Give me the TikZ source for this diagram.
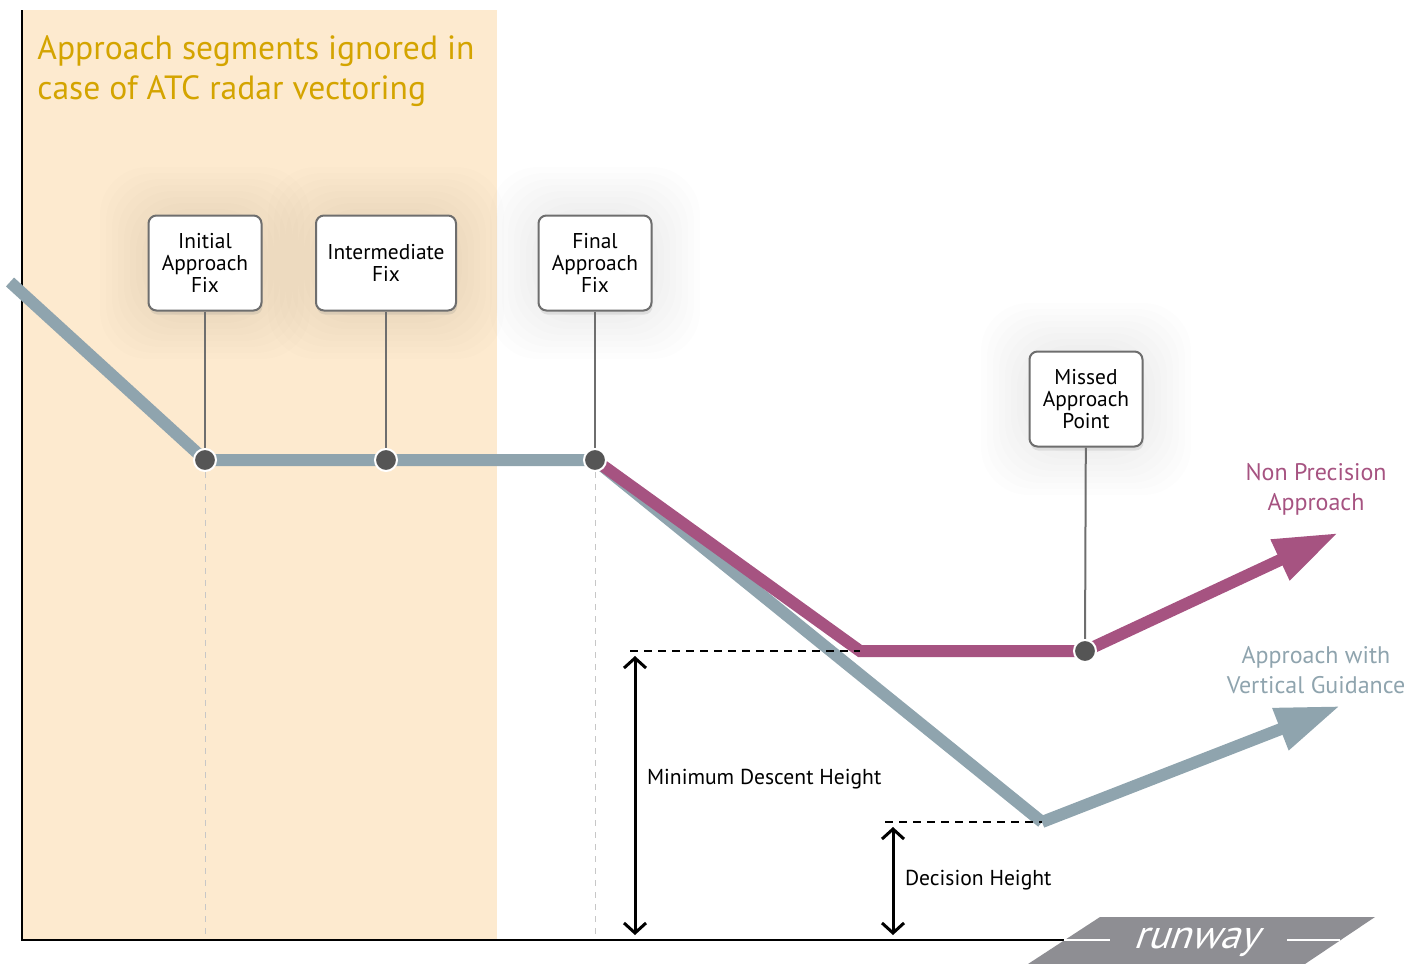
\documentclass[tikz,border=0pt]{standalone}
\usepackage{fontspec}
\setmainfont{PT Sans}
\usetikzlibrary{positioning,arrows.meta,shadows}

\definecolor{bandpeach}{RGB}{253,234,207}
\definecolor{titlegold}{RGB}{212,164,0}
\definecolor{pathgray}{RGB}{143,164,174}
\definecolor{pathplum}{RGB}{166,83,129}
\definecolor{runwaygray}{RGB}{142,142,147}
\definecolor{stemgray}{RGB}{110,110,110}
\definecolor{dotgray}{RGB}{85,85,85}

\begin{document}
\begin{tikzpicture}[
    x=0.5pt, y=-0.5pt,
    fixbox/.style={draw=stemgray, line width=1pt, fill=white, rounded corners=4pt,
      minimum width=56.5pt, minimum height=47.5pt, align=center, inner sep=2pt,
      font=\fontsize{10.7}{11}\selectfont,
      drop shadow={opacity=0.18, shadow xshift=0.5pt, shadow yshift=-2pt}},
    fixdot/.style={circle, fill=dotgray, draw=white, line width=1pt,
      minimum size=11pt, inner sep=0pt},
    stem/.style={stemgray, line width=1pt},
    guide/.style={black!22, dashed, line width=0.5pt},
    track/.style={line width=6pt, line join=miter},
    trackhead/.style={-{Triangle[length=32pt,width=21pt]}},
    lbl/.style={font=\fontsize{10.8}{12}\selectfont, anchor=west},
    pathlbl/.style={font=\fontsize{12}{15}\selectfont, align=center},
    limit/.style={dash pattern=on 4pt off 3pt, line width=0.9pt},
    height/.style={line width=1.5pt,
      {Straight Barb[length=5pt,width=11pt]}-{Straight Barb[length=5pt,width=11pt]}}
  ]
  \useasboundingbox (0,0) rectangle (1405,964);

  % segments skipped under radar vectoring
  \fill[bandpeach] (22,10) rectangle (497,940);
  \node[anchor=north west, inner sep=0pt, align=left, text=titlegold,
        font=\fontsize{16.8}{20}\selectfont] (title) at (37,35)
        {Approach segments ignored in\\case of ATC radar vectoring};

  % soft glow round the fix boxes
  \foreach \cx/\cy/\hw in {205/263/57, 386/263/70, 595/263/57, 1086/399/57}
    \foreach \g in {6,12,...,48}
      \fill[black, opacity=0.007, rounded corners=24pt]
        (\cx-\hw-\g,\cy-48-\g) rectangle (\cx+\hw+\g,\cy+48+\g);

  % fixes on the profile
  \coordinate (iaf) at (205,460);
  \coordinate (if)  at (386,460);
  \coordinate (faf) at (595,460);
  \coordinate (map) at (1085,651);
  \coordinate (entry) at (10,282);
  \coordinate (mda) at (860,651);
  \coordinate (da)  at (1042,822);
  \coordinate (npend) at (1338,533);
  \coordinate (apvend) at (1340,706);

  \draw[guide] (iaf) -- (205,940);
  \draw[guide] (faf) -- (595,940);

  % axes
  \draw[line width=0.75pt] (22,10) -- (22,940) -- (1064,940);

  % approach profiles
  \draw[track, pathgray] (entry) -- (iaf) -- (faf) -- (da);
  \draw[track, pathgray, trackhead] (da) -- (apvend);
  \draw[track, pathplum] (faf) -- (mda) -- (map);
  \draw[track, pathplum, trackhead] (map) -- (npend);

  % fix boxes
  \node[fixbox] (iafbox) at (205,263) {Initial\\Approach\\Fix};
  \node[fixbox, minimum width=70pt] (ifbox) at (386,263) {Intermediate\\Fix};
  \node[fixbox] (afbox) at (595,263) {Final\\Approach\\Fix};
  \node[fixbox] (mapbox) at (1086,399) {Missed\\Approach\\Point};

  \draw[stem] (iafbox) -- (iaf);
  \draw[stem] (ifbox) -- (if);
  \draw[stem] (afbox) -- (faf);
  \draw[stem] (mapbox) -- (1085,651);

  \foreach \p in {iaf, if, faf, map}
    \node[fixdot] (\p dot) at (\p) {};

  % minima
  \draw[limit] (630,651) -- (mda);
  \draw[limit] (885,822) -- (da);
  \draw[height] (635,656) -- (635,935);
  \draw[height] (893,827) -- (893,935);
  \node[lbl] (mdhlbl) at (640,779) {Minimum Descent Height};
  \node[lbl] (dhlbl) at (898,880) {Decision Height};

  % runway
  \fill[runwaygray] (1100,917) -- (1375,917) -- (1305,964) -- (1028,964) -- cycle;
  \draw[white, line width=1pt] (1064,940) -- (1110,940);
  \draw[white, line width=1pt] (1287,940) -- (1340,940);
  \node[text=white, xslant=0.35, anchor=base, inner sep=0pt,
        font=\fontsize{20}{20}\selectfont] (rwy) at (1196,948) {runway};

  % profile names
  \node[pathlbl, text=pathplum] (nplbl) at (1316,489) {Non Precision\\Approach};
  \node[pathlbl, text=pathgray] (apvlbl) at (1316,670) {Approach with\\Vertical Guidance};
\end{tikzpicture}
\end{document}
